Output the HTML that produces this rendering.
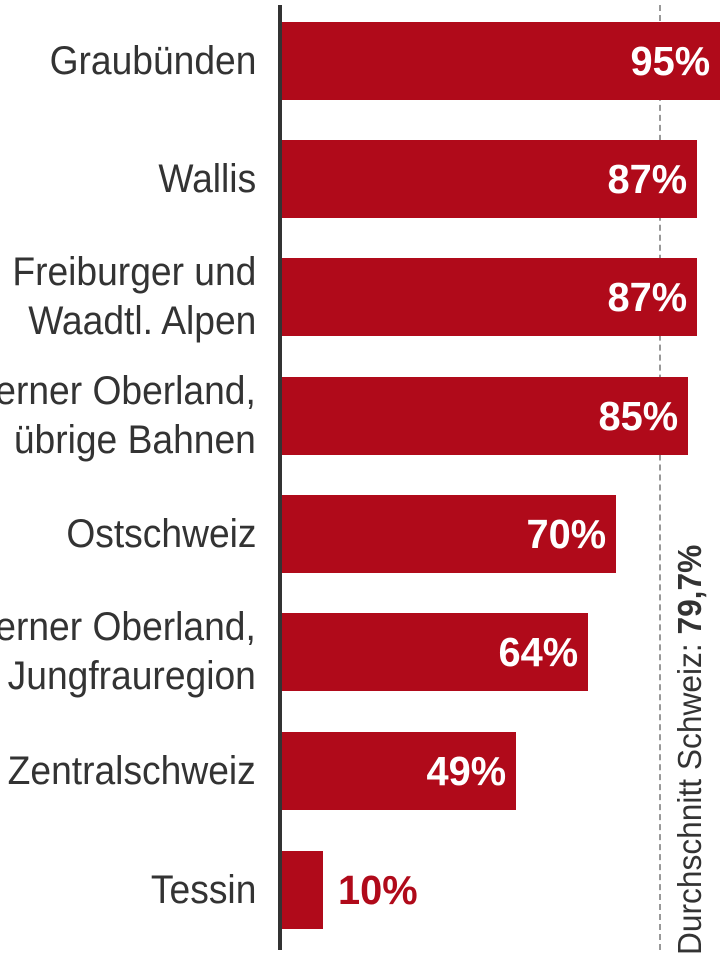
<!DOCTYPE html>
<html><head><meta charset="utf-8"><style>
body{margin:0;width:720px;height:960px;background:#fff;overflow:hidden;position:relative;font-family:"Liberation Sans",sans-serif;}
.ax{position:absolute;left:278px;top:5px;width:4px;height:945px;background:#333;}
.dash{position:absolute;left:659px;top:5px;height:945px;border-left:2px dashed #999;}
.bar{position:absolute;left:282px;height:78px;background:#b00a1a;}
.v{position:absolute;right:10px;top:0;line-height:78px;color:#fff;font-weight:bold;font-size:41px;transform:scaleX(0.97);transform-origin:100% 50%;}
.l{position:absolute;right:464px;text-align:right;color:#333;font-size:40px;line-height:49px;white-space:nowrap;transform:scaleX(0.93);transform-origin:100% 50%;}
.rot{position:absolute;left:672px;top:955px;transform-origin:0 0;transform:rotate(-90deg) scaleX(0.96);font-size:33px;line-height:36px;color:#333;white-space:nowrap;}
</style></head><body>
<div class="dash"></div>
<div class="bar" style="top:22px;width:438px"><span class="v">95%</span></div>
<div class="bar" style="top:140px;width:415px"><span class="v">87%</span></div>
<div class="bar" style="top:258px;width:415px"><span class="v">87%</span></div>
<div class="bar" style="top:377px;width:406px"><span class="v">85%</span></div>
<div class="bar" style="top:495px;width:334px"><span class="v">70%</span></div>
<div class="bar" style="top:613px;width:306px"><span class="v">64%</span></div>
<div class="bar" style="top:732px;width:234px"><span class="v">49%</span></div>
<div class="bar" style="top:851px;width:41px"></div>
<div style="position:absolute;left:338px;top:851px;line-height:78px;color:#b00a1a;font-weight:bold;font-size:41px;transform:scaleX(0.97);transform-origin:0 50%">10%</div>
<div class="ax"></div>
<div class="l" style="top:37px">Graubünden</div>
<div class="l" style="top:155px">Wallis</div>
<div class="l" style="top:248px">Freiburger und<br>Waadtl. Alpen</div>
<div class="l" style="top:367px">Berner Oberland,<br>übrige Bahnen</div>
<div class="l" style="top:510px">Ostschweiz</div>
<div class="l" style="top:603px">Berner Oberland,<br>Jungfrauregion</div>
<div class="l" style="top:747px">Zentralschweiz</div>
<div class="l" style="top:866px">Tessin</div>
<div class="rot">Durchschnitt Schweiz: <b>79,7%</b></div>
</body></html>
